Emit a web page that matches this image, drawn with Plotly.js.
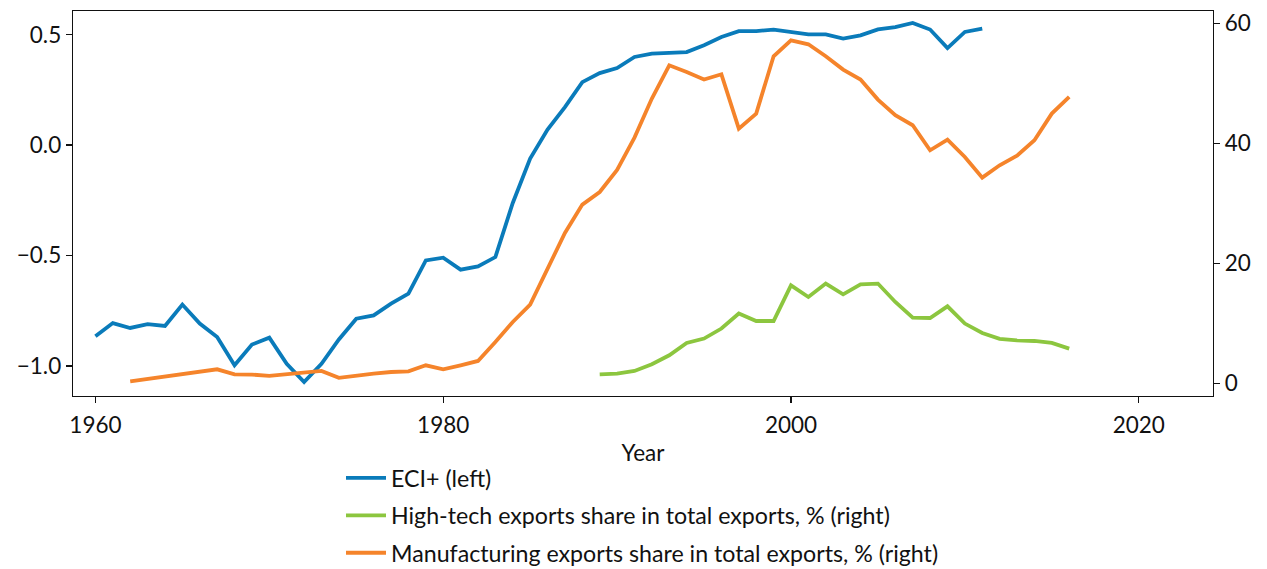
<!DOCTYPE html>
<html>
<head>
<meta charset="utf-8">
<script src="https://cdn.plot.ly/plotly-3.0.1.min.js"></script>
<style>html,body{margin:0;padding:0;background:#fff;}#chart{width:1267px;height:569px;}</style>
</head>
<body>
<div id="chart"></div>
<script>
const eciYears = [1960,1961,1962,1963,1964,1965,1966,1967,1968,1969,1970,1971,1972,1973,1974,1975,1976,1977,1978,1979,1980,1981,1982,1983,1984,1985,1986,1987,1988,1989,1990,1991,1992,1993,1994,1995,1996,1997,1998,1999,2000,2001,2002,2003,2004,2005,2006,2007,2008,2009,2010,2011];
const eciValues = [-0.866,-0.806,-0.828,-0.811,-0.819,-0.722,-0.808,-0.869,-0.997,-0.903,-0.872,-0.990,-1.073,-0.990,-0.880,-0.786,-0.771,-0.718,-0.673,-0.522,-0.510,-0.564,-0.549,-0.507,-0.262,-0.061,0.070,0.172,0.285,0.326,0.349,0.399,0.414,0.417,0.421,0.452,0.489,0.516,0.516,0.523,0.512,0.501,0.501,0.482,0.497,0.524,0.534,0.553,0.523,0.439,0.512,0.527];

const hiTechYears = [1989,1990,1991,1992,1993,1994,1995,1996,1997,1998,1999,2000,2001,2002,2003,2004,2005,2006,2007,2008,2009,2010,2011,2012,2013,2014,2015,2016];
const hiTechValues = [1.55,1.67,2.1,3.22,4.72,6.77,7.5,9.17,11.67,10.43,10.43,16.38,14.43,16.67,14.88,16.55,16.67,13.6,11.0,10.93,12.88,10.0,8.43,7.45,7.2,7.1,6.77,5.83];

const manufYears = [1962,1963,1964,1965,1966,1967,1968,1969,1970,1971,1972,1973,1974,1975,1976,1977,1978,1979,1980,1981,1982,1983,1984,1985,1986,1987,1988,1989,1990,1991,1992,1993,1994,1995,1996,1997,1998,1999,2000,2001,2002,2003,2004,2005,2006,2007,2008,2009,2010,2011,2012,2013,2014,2015,2016];
const manufValues = [0.38,0.78,1.18,1.58,1.98,2.38,1.55,1.5,1.27,1.55,1.93,2.1,0.95,1.38,1.67,1.93,2.05,3.05,2.38,3.05,3.77,6.93,10.27,13.17,19.17,25.1,29.83,31.93,35.6,41.0,47.5,53.05,51.93,50.67,51.55,42.5,45.0,54.55,57.2,56.55,54.55,52.33,50.67,47.33,44.72,43.05,38.88,40.67,37.77,34.33,36.38,38.0,40.55,45.0,47.77];

const names = ["ECI+ (left)", "High-tech exports share in total exports, % (right)", "Manufacturing exports share in total exports, % (right)"];
const colors = ["#0a7bba", "#8cc63f", "#f5842b"];

const FONT = "Lato, 'Open Sans', sans-serif";
const FS = 22.5;
const LFS = 23.2;

const traces = [
  {x: eciYears, y: eciValues, name: names[0], type: "scatter", mode: "lines", line: {color: colors[0], width: 3.8}, yaxis: "y", legendgroup: "a"},
  {x: hiTechYears, y: hiTechValues, name: names[1], type: "scatter", mode: "lines", line: {color: colors[1], width: 3.8}, yaxis: "y2", legendgroup: "b"},
  {x: manufYears, y: manufValues, name: names[2], type: "scatter", mode: "lines", line: {color: colors[2], width: 3.8}, yaxis: "y2", legendgroup: "c"}
];

const axisCommon = {
  showline: true, linecolor: "#111", linewidth: 1.3,
  ticks: "outside", ticklen: 6, tickwidth: 1.3, tickcolor: "#111",
  showgrid: false, zeroline: false,
  tickfont: {family: FONT, size: FS, color: "#111"}
};

const layout = {
  width: 1267, height: 569,
  margin: {l: 73, r: 54, t: 11, b: 173, autoexpand: false},
  paper_bgcolor: "#fff", plot_bgcolor: "#fff",
  font: {family: FONT, size: FS, color: "#111"},
  showlegend: true,
  legend: {x: (341 - 73) / 1140, xanchor: "left", y: -0.1565, yanchor: "top", orientation: "v", itemwidth: 40,
           traceorder: "grouped", tracegroupgap: 4.3, font: {family: FONT, size: LFS, color: "#111"}, bgcolor: "rgba(0,0,0,0)"},
  xaxis: Object.assign({}, axisCommon, {
    range: [1958.71, 2024.27], tickvals: [1960, 1980, 2000, 2020], mirror: true, ticklabelstandoff: 3,
    title: {text: "Year", font: {family: FONT, size: FS, color: "#111"}, standoff: 8}
  }),
  yaxis: Object.assign({}, axisCommon, {
    range: [-1.136, 0.607], tickvals: [-1.0, -0.5, 0.0, 0.5], tickformat: ".1f"
  }),
  yaxis2: Object.assign({}, axisCommon, {
    range: [-2.07, 62.1], tickvals: [0, 20, 40, 60], overlaying: "y", side: "right"
  })
};

Plotly.newPlot("chart", traces, layout, {staticPlot: true, displayModeBar: false});
</script>
</body>
</html>
